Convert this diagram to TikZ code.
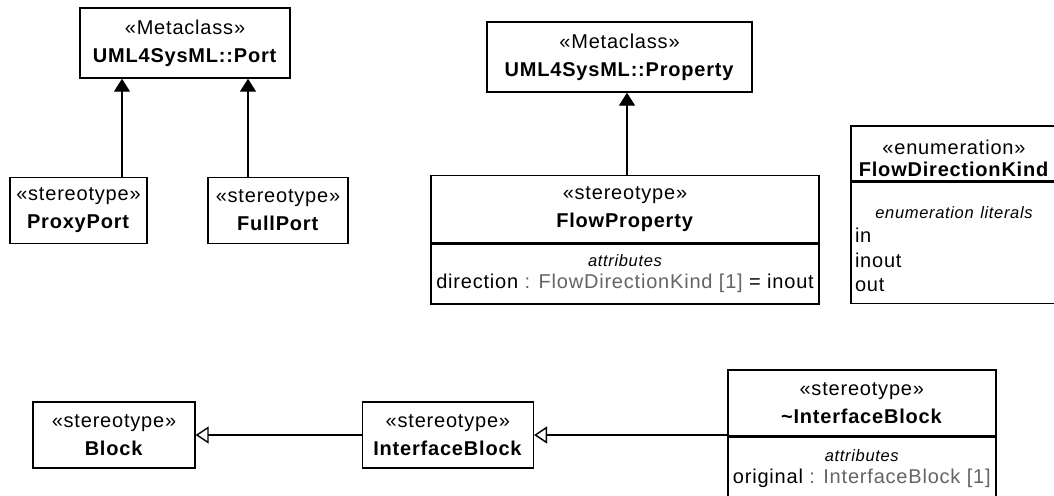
\documentclass[tikz,border=0pt]{standalone}
\usepackage{fontspec}
\setmainfont{Liberation Sans}[LetterSpace=4]
\usetikzlibrary{arrows.meta, positioning}
\definecolor{typegray}{RGB}{100,100,100}
\tikzstyle{classbox} = [rectangle, draw, line width=1.4pt, align=center, inner sep=3pt, font=\fontsize{20}{28}\selectfont]
\tikzstyle{attrbox} = [rectangle, draw, line width=1.4pt, align=center, inner sep=3pt, font=\fontsize{20}{22}\selectfont]
\tikzstyle{extension} = [-{Triangle[length=13pt, width=16pt]}, line width=1.4pt]
\tikzstyle{generalization} = [-{Triangle[open, length=13pt, width=17pt]}, line width=1.4pt]
\newcommand{\compname}[1]{{\fontsize{16.5}{19}\selectfont\itshape #1}}
\newcommand{\typeof}[1]{\textcolor{typegray}{#1}}

\begin{document}
\begin{tikzpicture}[x=1pt, y=-1pt]
  \useasboundingbox (0,0) rectangle (1054,495);

  % ports
  \node[classbox, minimum width=210pt, minimum height=70pt] (port) at (185,43) {«Metaclass»\\\textbf{UML4SysML::Port}};
  \node[classbox, minimum width=137pt, minimum height=66pt, below=98pt of port, xshift=-106.5pt] (proxy) {«stereotype»\\\textbf{ProxyPort}};
  \node[classbox, minimum width=140pt, minimum height=66pt, below=98pt of port, xshift=93pt] (full) {«stereotype»\\\textbf{FullPort}};

  % flow property
  \node[classbox, minimum width=265pt, minimum height=70pt] (prop) at (619.5,57) {«Metaclass»\\\textbf{UML4SysML::Property}};
  \node[classbox, minimum width=388pt, minimum height=67pt, below=82pt of prop, xshift=5.5pt] (flowprop) {«stereotype»\\\textbf{FlowProperty}};
  \node[attrbox, minimum width=388pt, minimum height=60pt, below=0pt of flowprop] (flowattr) {\compname{attributes}\\direction \typeof{: FlowDirectionKind [1]} = inout};

  % enumeration
  \node[classbox, minimum width=206pt, minimum height=55pt, font=\fontsize{20}{22}\selectfont] (enum) at (954,153.5) {\rule{0pt}{25pt}«enumeration»\\\textbf{FlowDirectionKind}};
  \node[attrbox, text width=198pt, inner xsep=4pt, minimum height=121pt, align=left, font=\fontsize{20}{24.5}\selectfont, below=0pt of enum] (enumlit) {\makebox[\linewidth][c]{\rule{0pt}{24pt}\compname{enumeration literals}}\\in\\inout\\out};

  % blocks
  \node[classbox, minimum width=162pt, minimum height=66pt] (block) at (114,435) {«stereotype»\\\textbf{Block}};
  \node[classbox, minimum width=171pt, minimum height=66pt, right=166pt of block] (ib) {«stereotype»\\\textbf{InterfaceBlock}};
  \node[classbox, minimum width=268pt, minimum height=66pt, right=193pt of ib, yshift=32pt] (tib) {«stereotype»\\\textbf{\textasciitilde InterfaceBlock}};
  \node[attrbox, minimum width=268pt, minimum height=62pt, below=0pt of tib] (tibattr) {\compname{attributes}\\original \typeof{: InterfaceBlock [1]}};

  \draw[extension] ([xshift=43.5pt]proxy.north) -- ([xshift=-63pt]port.south);
  \draw[extension] ([xshift=-30pt]full.north) -- ([xshift=63pt]port.south);
  \draw[extension] ([xshift=2pt]flowprop.north) -- ([xshift=2pt]flowprop.north |- prop.south);
  \draw[generalization] (ib.west) -- (block.east);
  \draw[generalization] (ib.east -| tib.west) -- (ib.east);
\end{tikzpicture}
\end{document}
